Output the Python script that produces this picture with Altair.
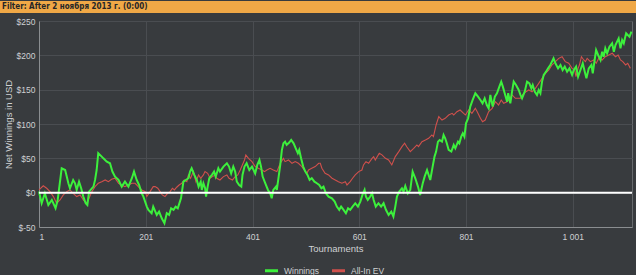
import altair as alt
import pandas as pd

# ---- data ----
win_t = [1, 6, 12, 18.5, 25, 32, 36, 43.5, 50, 53, 56, 59, 65, 68.5, 71.6, 76, 80, 84, 88.5, 91.6, 94.8,
         103, 106, 109, 112, 118.5, 121.6, 128, 134, 138.5, 143.5, 150, 156, 162, 168.5, 175, 179, 184,
         188.5, 193.5, 196.6, 203, 206, 212, 215, 221.6, 226, 231,
         236, 240.4, 244.75, 248.5, 253, 257, 261, 265, 267, 271.6, 276, 281, 284, 287, 292, 296.6, 300,
         304, 306, 309, 312.25, 314, 317, 320, 325, 329, 332, 337, 340, 346.6, 353, 357, 361, 365, 368.5,
         371.6, 376, 380, 382.25, 386, 390, 395, 400, 406, 410, 414, 417, 420, 425, 430, 434, 437, 440,
         445, 446.6, 450, 453, 456,
         459, 462, 465, 469.75, 473.5, 478, 482, 486, 488.5, 492, 496, 500, 504, 508, 512, 517, 521.6, 526,
         530, 534, 538.5, 543.5, 549.8, 555, 559, 563.5, 567, 571.6, 576, 580, 584, 588.5, 593.5, 598.5,
         603, 607, 611, 613.5, 617, 621.6, 625, 628, 632, 637, 642, 646.6, 651, 656, 661, 665, 668.5,
         671.6, 676, 681, 684, 687.25, 692, 696.6, 701, 706, 711, 715, 720, 723.5, 728, 731, 734, 738.5,
         742, 745, 748.5, 751.6, 756, 759, 762, 765, 768.5, 773.5, 778, 781, 786, 788.5, 792, 795, 798,
         801, 805, 809, 813.5, 818.5, 823.5, 828, 832, 836, 840, 843.5, 846.6, 851, 855, 859, 863.5, 867,
         870, 873.5, 878,
         880, 884, 887.25, 890.4, 894.75, 899.75, 903, 906, 911, 915.4, 919.75, 923.5, 926, 930, 934,
         937.25, 940.4, 943.5, 946.6, 951, 954.75, 959, 962, 965, 968.5, 973.5, 978, 982, 986, 990.4,
         994.75, 999.75, 1003, 1007.25, 1011, 1015.4, 1019.75, 1023.5, 1026.6, 1031, 1036, 1038.5, 1042,
         1044.75, 1048.5, 1053, 1056, 1059, 1062, 1065.4, 1069.75, 1074.75, 1078, 1081, 1087, 1090.4,
         1093.5, 1096.6, 1101, 1104, 1107.25, 1111]
win_v = [1.5, -15.4, -0.9, -17.9, -10.6, -22.7, -10.6, 35.5, 33, 23.4, 13.7, 6.4, 18.5, 13.7, 4, 16, 6.4,
         -5.7, -15.4, -17.9, 1.5, 8.8, 18.5, 33, 57.4, 52.5, 50, 45.2, 42.8, 30.7, 23.4, 18.5, 8.8, 16.1,
         8.8, 21, 30.7, 18.5, 11.2, -0.9, -5.7, -20.3, -25.1, -30, -20.3, -32.4, -27.6, -37.3,
         -44.6, -30, -32.4, -22.7, -25, -20.3, -22.7, -13, -8.2, 16, 18.5, 21, 30.7, 35.5, 26, 18.5, 8.8,
         16, 4, 13.7, 6.4, -5.7, 8.8, 21, 26, 30.7, 23.4, 35.5, 30.7, 38, 42.8, 38, 28, 38, 30.7, 16, 11.2,
         8.8, 25.8, 38, 42.8, 33, 38, 28, 40.4, 47.6, 38, 23.4, 13.7, 4, -0.9, -8.2, 4, 8.8, 4, 23.4, 40.4,
         62,
         72, 74.3, 69.5, 72.9, 76.8, 71.9, 64.6, 57.4, 62.2, 50, 38, 30.7, 25.8, 18.5, 21, 16, 13.7, 11.2,
         6.4, 8.8, -0.9, -5.7, -8.2, -13, -20.3, -25, -20.3, -25, -30, -22.7, -25, -20.3, -15.4, -20.3,
         -13, -3.3, 4, -5.7, -10.6, -5.7, -0.9, -10.6, -20.3, -15.4, -20.3, -15.4, -25, -32.4, -27.6,
         -34.9, -20.3,
         -5.7, 1.5, 6.4, 1.5, 9.8, -1, 3.9, 30.6, 20.9, 8.8, -3.4, 13.6, 23.3, 33, 25.7, 18.5, 38, 52.5,
         59.8, 74.3, 76.7, 74.3, 84, 79.2, 71.9, 62.2, 59.8, 69.5, 64.6, 74.3, 71.9, 81.6, 86.4, 81.6,
         101, 108.3, 125.3, 135, 144.7, 139.8, 135, 130, 137.4, 127.7, 122.8, 142.3, 125.3, 139.8, 144.7,
         154.4, 161.6, 154.4, 144.7, 132.5,
         145, 130, 147, 161.7, 156.9, 149.5, 142.3, 137.4, 147, 161.7, 159.3, 151.8, 156.9, 147, 142.3,
         149.5, 144.7, 161.7, 171.4, 176.2, 181, 185.9, 190.8, 195.6, 188.4, 181, 185.9, 178.6, 183.5,
         176.2, 181, 171.4, 178.6, 183.5, 168.9, 178.6, 188.4, 176.2, 166.5, 181, 185.9, 173.8, 193.2,
         207.8, 200.5, 193.2, 205.3, 198, 210.2, 202.9, 212.6, 217.5, 205.3, 215, 224.7, 210.2, 222.3,
         217.5, 232, 229.6, 227.2, 234.5]

ev_t = [1, 9, 15.4, 21.6, 28, 34, 40.4, 46.6, 53, 59, 65, 71.6, 78, 84, 90.4, 94.8, 100, 106, 112, 118.5,
        125, 131, 137, 143.5, 150, 156, 162, 168.5, 175, 181, 187, 193.5, 200, 203, 209, 215,
        218.5, 223.5, 228, 232, 237, 242, 246.6, 251, 254.75, 259, 263.5, 268.5, 273, 278, 281, 285,
        290, 295, 300, 304, 309, 312, 317, 321.6, 326, 331, 334, 340, 346.6, 353, 357, 363.5, 368.5,
        373.5, 378, 382, 386, 388.5, 393.5, 400, 406, 412, 418.5, 423.5, 428, 434, 440, 446.6, 453, 459,
        462, 468.5, 475, 481, 487, 493.5, 500, 503, 506, 512, 518.5, 525, 528, 531, 537, 543.5, 550, 556,
        562, 568.5, 575, 578, 584, 588.5, 593.5, 600, 606, 609, 613.5, 618.5, 625, 628, 631, 638.5,
        643.5, 650, 656, 662, 668.5, 675, 681, 686,
        690, 696.6, 703, 709, 712, 718.5, 725, 731, 737, 740, 745, 750, 756, 762, 768.5, 775, 778, 784,
        790, 796.6, 800, 806, 812, 818.5, 822, 828, 832, 837, 843.5, 850, 856, 862, 867, 871.6, 878,
        884, 887.25, 893.5, 903, 909, 918.5, 924.75, 931, 943.5, 949.75, 956, 962, 968.5, 974.75, 981,
        987, 993.5, 999.75, 1004.75, 1007, 1011, 1013.5, 1017.25, 1021.6, 1024.75, 1028, 1034, 1040.4,
        1045, 1049.75, 1056, 1062, 1068.5, 1075, 1081, 1086, 1090.4, 1094.75, 1100, 1104, 1109]
ev_v = [4, 10, 6.4, 1.5, -5.7, -15.4, -10.6, -3.3, 1.5, 4, -0.9, -5.7, -3.3, -10.6, -15.4, -8.2, 1.5, 8.8,
        13.7, 16, 18.5, 16, 19.5, 21, 13.7, 11, 8.8, 11, 13.7, 13.7, 8.8, 4, 1.5, -5.7, 1.5, 8.8,
        8.8, 6.4, 1.5, -3.3, -5.7, -0.9, 1.5, 6.4, 4, 7.9, 11.2, 13.7, 18.5, 16, 25.8, 21, 30.7, 16, 25.8,
        21, 25.8, 30.7, 28.2, 21, 23.4, 25.8, 21, 18.5, 23.4, 25.8, 21, 18.5, 23.4, 25.8, 33, 40.4, 47.6,
        55, 50, 45.2, 38, 35.5, 33, 30.7, 33, 35.5, 33, 30.7, 42.8, 50,
        45.2, 47.6, 42.8, 45.2, 42.8, 38, 30.7, 28.2, 33, 35.5, 38, 42.8, 42.8, 35.5, 28.2, 25.8, 21,
        18.5, 16, 13.7, 16, 11.2, 16, 21, 25.8, 30.7, 33, 40.4, 45.2, 42.8, 50, 52.5, 47.6, 57.4, 55, 50,
        47.6, 40.4, 52.5, 59.8, 67, 72,
        66.9, 59.8, 64.6, 69.5, 67, 74.3, 76.7, 79.2, 84, 81.6, 98.6, 110.7, 105.8, 108.3, 113.1, 115.5,
        113.1, 118, 120.4, 115.5, 113.1, 120.4, 115.5, 122.8, 118, 108.3, 103.4, 105.8, 118, 122.8, 132.5,
        127.7, 135, 130.1, 132.5,
        137.4, 142.3, 137.4, 137.4, 144.7, 149.5, 147, 152, 166.5, 173.8, 178.6, 185.9, 190.8, 195.6, 198,
        190.8, 188.4, 181, 178.6, 169, 181, 185.9, 198, 193.2, 190.8, 195.6, 190.8, 193.2, 188.4, 195.6,
        193.2, 198, 200.5, 203, 198, 200.5, 193.2, 190.8, 186, 188.4, 181]

series_names = ["Winnings", "All-In EV"]
series_colors = ["#3cf03c", "#d0504c"]
x_ticks = [1, 201, 401, 601, 801, 1001]
y_ticks = [-50, 0, 50, 100, 150, 200, 250]
filter_text = "Filter: After 2 ноября 2013 г. (0:00)"

win_df = pd.DataFrame({"t": win_t, "v": win_v, "series": "Winnings"})
ev_df = pd.DataFrame({"t": ev_t, "v": ev_v, "series": "All-In EV"})
zero_df = pd.DataFrame({"v": [0]})

FONT = "Liberation Sans"
TXT = "#cfd1d3"

color_scale = alt.Scale(domain=series_names, range=series_colors)
x_enc = alt.X("t:Q", scale=alt.Scale(domain=[1, 1112], nice=False, zero=False),
              axis=alt.Axis(values=x_ticks, title="Tournaments",
                            labelExpr="replace(format(datum.value, ',d'), ',', ' ')"))
y_enc = alt.Y("v:Q", scale=alt.Scale(domain=[-50, 250], nice=False, zero=False),
              axis=alt.Axis(values=y_ticks, title="Net Winnings in USD", labelOverlap=False,
                            titleX=-31, titleY=103, titleAngle=270, titleAlign="center",
                            titleBaseline="middle",
                            labelExpr="'$' + datum.value"))
legend = alt.Legend(title=None, orient="none", legendX=224, legendY=241, direction="horizontal",
                    symbolType="stroke", symbolStrokeWidth=3, symbolSize=170,
                    labelColor=TXT, labelFontSize=8.5, labelFont=FONT, columnPadding=6)

ev_line = alt.Chart(ev_df).mark_line(strokeWidth=1.1).encode(
    x=x_enc, y=y_enc, color=alt.Color("series:N", scale=color_scale, legend=legend))
win_line = alt.Chart(win_df).mark_line(strokeWidth=2).encode(
    x=x_enc, y=y_enc, color=alt.Color("series:N", scale=color_scale, legend=legend))

zero = alt.Chart(zero_df).mark_rule(color="white", strokeWidth=2).encode(y=y_enc)

bar_df = pd.DataFrame({"label": [filter_text]})
bar = alt.Chart(bar_df).mark_rect(color="#f0a846", clip=False).encode(
    x=alt.value(-39), x2=alt.value(597), y=alt.value(-20), y2=alt.value(-8))
bar_text = alt.Chart(bar_df).mark_text(align="left", baseline="middle", fontSize=8,
                                       fontWeight="bold",
                                       font="'DejaVu Sans Condensed', 'Liberation Sans', sans-serif",
                                       color="#262626", clip=False).encode(
    x=alt.value(-37), y=alt.value(-14), text="label:N")

chart = alt.layer(ev_line, win_line, zero, bar, bar_text).resolve_scale(color="shared").properties(
    width=593, height=206, background="#383b3e",
    padding={"left": 39, "top": 21, "right": 4, "bottom": 48},
    autosize=alt.AutoSizeParams(type="none"),
).configure_view(stroke="#66696c", strokeWidth=1).configure_axis(
    labelColor=TXT, titleColor=TXT, labelFont=FONT, titleFont=FONT, labelFontSize=8.5,
    titleFontSize=9.5, titleFontWeight="normal", gridColor="#4a4d51", gridWidth=1,
    domainColor="#8a8d90", ticks=False,
).configure_axisX(labelPadding=5, titlePadding=3).configure_axisY(labelPadding=4, labelOverlap=False)

chart.save("out.html", embed_options={"renderer": "svg", "actions": False})
